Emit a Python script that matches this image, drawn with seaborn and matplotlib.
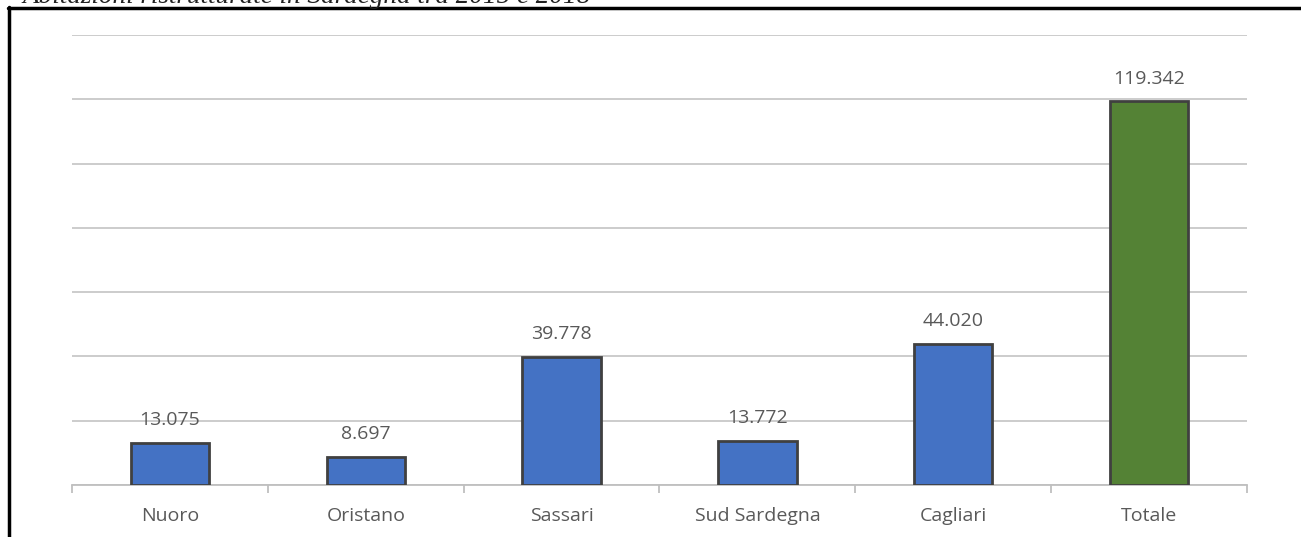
import matplotlib
matplotlib.use("Agg")
import matplotlib.pyplot as plt
from matplotlib.lines import Line2D
from matplotlib.ticker import MultipleLocator, FixedLocator, NullFormatter
import seaborn as sns
import pandas as pd

# Abitazioni per provincia e totale regionale
province = ["Nuoro", "Oristano", "Sassari", "Sud Sardegna", "Cagliari", "Totale"]
abitazioni = [13075, 8697, 39778, 13772, 44020, 119342]
etichette = ["13.075", "8.697", "39.778", "13.772", "44.020", "119.342"]
titolo = "Abitazioni ristrutturate in Sardegna tra 2015 e 2018"

BLU = "#4472C4"
VERDE = "#548235"
colori = {p: (VERDE if p == "Totale" else BLU) for p in province}

sns.set_theme(style="white")
plt.rcParams["font.family"] = ["Open Sans", "DejaVu Sans"]

df = pd.DataFrame({"provincia": province, "valore": abitazioni})

fig = plt.figure(figsize=(13.01, 5.37), dpi=100)
ax = fig.add_axes([72 / 1301, 1 - 485 / 537, (1247 - 72) / 1301, (485 - 35) / 537])

sns.barplot(data=df, x="provincia", y="valore", hue="provincia", palette=colori,
            saturation=1, width=0.4, edgecolor="#404040", linewidth=2,
            legend=False, ax=ax, zorder=3)

ax.set_xlim(-0.5, len(province) - 0.5)
ax.set_ylim(0, 140000)
ax.yaxis.set_major_locator(MultipleLocator(20000))
ax.yaxis.grid(True, color="#bfbfbf", linewidth=1.1, zorder=0)
ax.set_axisbelow(True)
ax.tick_params(axis="y", left=False, labelleft=False)

for side in ("top", "right", "left"):
    ax.spines[side].set_visible(False)
ax.spines["bottom"].set_color("#bfbfbf")
ax.spines["bottom"].set_linewidth(1.3)

ax.xaxis.set_minor_locator(FixedLocator([i - 0.5 for i in range(len(province) + 1)]))
ax.xaxis.set_minor_formatter(NullFormatter())
ax.tick_params(axis="x", which="minor", bottom=True, direction="out", length=6,
               width=1.3, color="#bfbfbf")
ax.tick_params(axis="x", which="major", bottom=False, labelsize=14,
               labelcolor="#595959", pad=10)
ax.set_xlabel("")
ax.set_ylabel("")

for i, (v, lab) in enumerate(zip(abitazioni, etichette)):
    ax.annotate(lab, xy=(i, v), xytext=(0, 10), textcoords="offset points",
                ha="center", va="bottom", fontsize=14, color="#595959")

# cornice e titolo in alto
fig.add_artist(Line2D([8 / 1301, 1.0], [1 - 7.5 / 537] * 2, color="black",
                      linewidth=2.5, transform=fig.transFigure))
fig.add_artist(Line2D([8.5 / 1301] * 2, [0.0, 1 - 6.5 / 537], color="black",
                      linewidth=2.5, transform=fig.transFigure))
fig.text(22 / 1301, 1 - 3 / 537, titolo, ha="left", va="baseline",
         fontsize=19.5, style="italic", family="Liberation Serif", color="#222222")

fig.savefig("out.png", dpi=100)
